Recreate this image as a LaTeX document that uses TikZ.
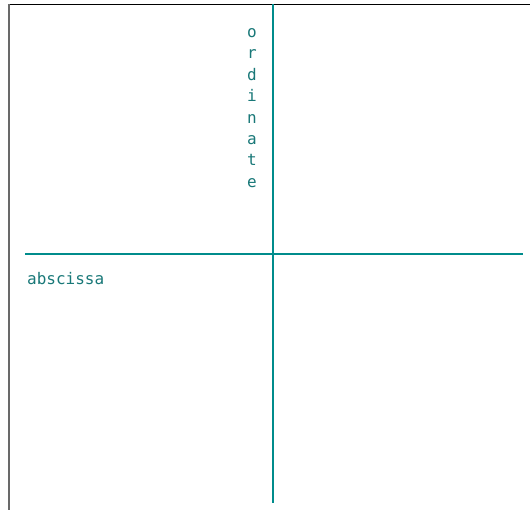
\documentclass[tikz,border=0pt]{standalone}
\usepackage{fontspec}
\setmonofont{DejaVu Sans Mono}
\usetikzlibrary{positioning}
\definecolor{axisteal}{RGB}{0,140,140}
\definecolor{labelteal}{RGB}{25,120,120}
\definecolor{framegray}{RGB}{105,105,105}

\begin{document}
\begin{tikzpicture}[x=1pt,y=-1pt,
  axisline/.style={draw=axisteal, line width=2pt},
  lbl/.style={font=\ttfamily\fontsize{16}{16}\selectfont, text=labelteal, inner sep=0pt}]
\useasboundingbox (0,0) rectangle (530,510);

% frame (top and left edge only)
\coordinate (ftopl) at (9,4.5);
\coordinate (ftopr) at (530,4.5);
\coordinate (fbotl) at (9,510);
\draw[black, line width=1.5pt] (ftopl) -- (ftopr);
\draw[framegray, line width=2pt] (ftopl) -- (fbotl);

% axes
\coordinate (ytop) at (273,4.5);
\coordinate (ybot) at (273,503);
\coordinate (xleft) at (25,254);
\coordinate (xright) at (523,254);
\draw[axisline] (ytop) -- (ybot);
\draw[axisline] (xleft) -- (xright);

% vertical label, one letter per line
\foreach \ch [count=\i] in {o,r,d,i,n,a,t,e}
  \node[lbl, anchor=base] (ord\i) at (252,{37.3+21.45*(\i-1)}) {\ch};

% horizontal label
\node[lbl, anchor=base west] (absc) at (27,285) {abscissa};
\end{tikzpicture}
\end{document}
